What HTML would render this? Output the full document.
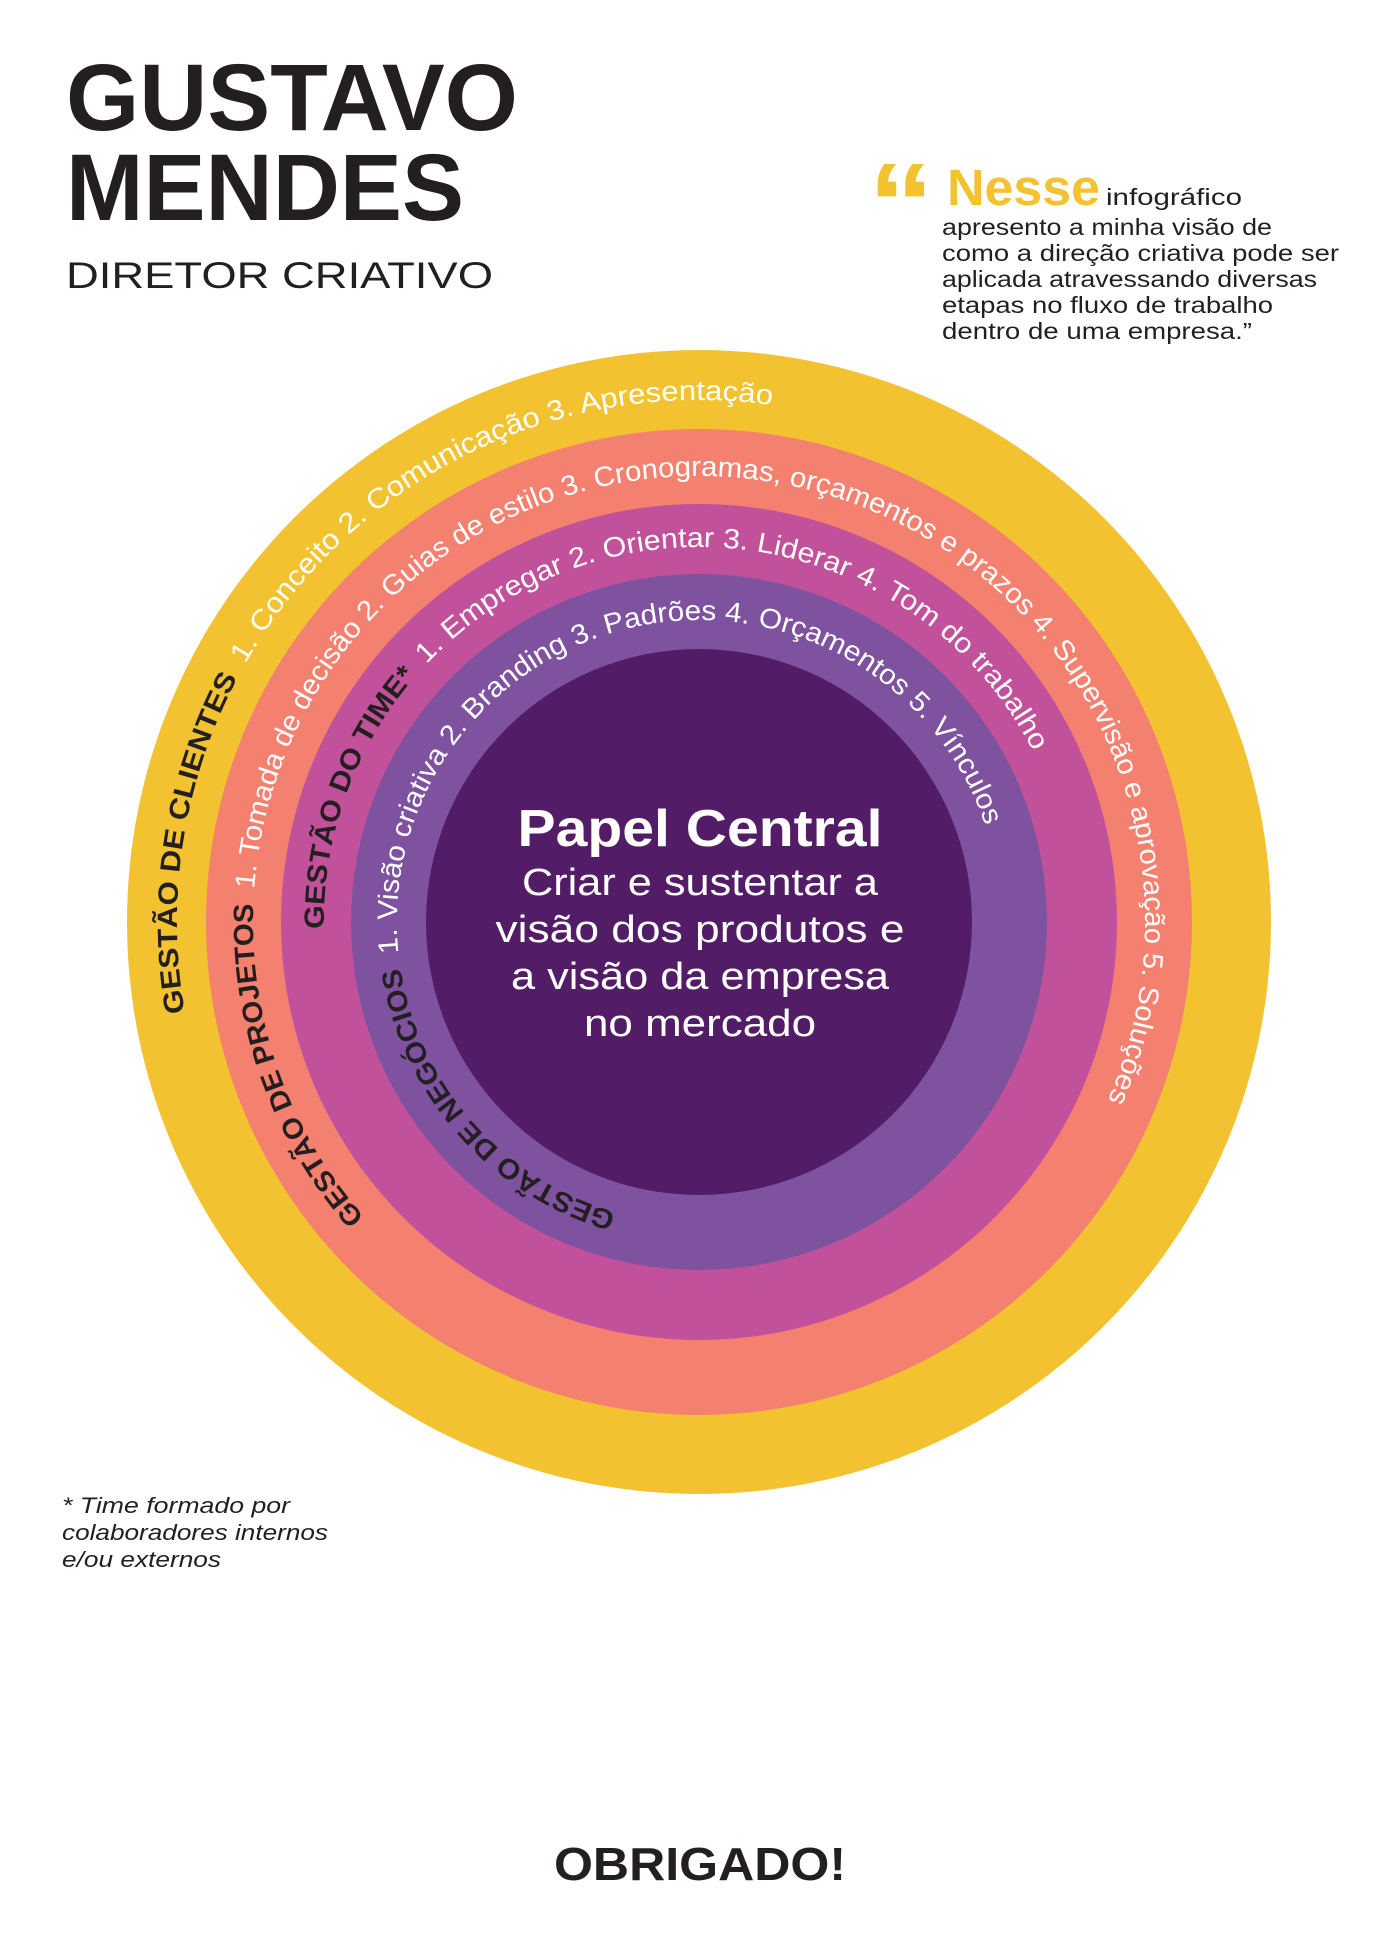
<!DOCTYPE html>
<html><head><meta charset="utf-8"><style>
html,body{margin:0;padding:0;background:#fff;width:1400px;height:1944px;overflow:hidden}
svg{display:block}
text{font-family:"Liberation Sans",sans-serif}
</style></head><body>
<svg width="1400" height="1944" viewBox="0 0 1400 1944" xmlns="http://www.w3.org/2000/svg">
<defs>
<path id="pY" d="M699,1444 A522,522 0 1 1 699,400 A522,522 0 1 1 699,1444"/>
<path id="pS" d="M699,1368 A446,446 0 1 1 699,476 A446,446 0 1 1 699,1368"/>
<path id="pM" d="M699,1297 A375,375 0 1 1 699,547 A375,375 0 1 1 699,1297"/>
<path id="pP" d="M699,1224 A302,302 0 1 1 699,620 A302,302 0 1 1 699,1224"/>
</defs>
<!-- title -->
<text x="66" y="130" font-size="95" font-weight="bold" fill="#231f20" textLength="452" lengthAdjust="spacingAndGlyphs">GUSTAVO</text>
<text x="66" y="220" font-size="95" font-weight="bold" fill="#231f20" textLength="398" lengthAdjust="spacingAndGlyphs">MENDES</text>
<text x="66" y="288" font-size="37" fill="#231f20" textLength="427" lengthAdjust="spacingAndGlyphs">DIRETOR CRIATIVO</text>
<!-- quote -->
<text x="868" y="243" font-size="115" font-weight="bold" fill="#f2c230" textLength="66" lengthAdjust="spacingAndGlyphs">“</text>
<text x="947" y="205" font-size="51" font-weight="bold" fill="#f2c230" textLength="153" lengthAdjust="spacingAndGlyphs">Nesse</text>
<text x="1106" y="205" font-size="23" fill="#231f20" textLength="136" lengthAdjust="spacingAndGlyphs">infográfico</text>
<g font-size="23" fill="#231f20">
<text x="942" y="235" textLength="330" lengthAdjust="spacingAndGlyphs">apresento a minha visão de</text>
<text x="942" y="261" textLength="397" lengthAdjust="spacingAndGlyphs">como a direção criativa pode ser</text>
<text x="942" y="287" textLength="375" lengthAdjust="spacingAndGlyphs">aplicada atravessando diversas</text>
<text x="942" y="313" textLength="331" lengthAdjust="spacingAndGlyphs">etapas no fluxo de trabalho</text>
<text x="942" y="339" textLength="310" lengthAdjust="spacingAndGlyphs">dentro de uma empresa.”</text>
</g>
<!-- rings -->
<circle cx="699" cy="922" r="572" fill="#f2c230"/>
<circle cx="699" cy="922" r="493" fill="#f4806f"/>
<circle cx="699" cy="922" r="418" fill="#c2519c"/>
<circle cx="699" cy="922" r="348" fill="#7f52a0"/>
<circle cx="699" cy="922" r="273" fill="#521c66"/>
<!-- ring text -->
<text font-size="28" fill="#fff"><textPath href="#pY" startOffset="729" textLength="984" lengthAdjust="spacingAndGlyphs"><tspan font-weight="bold" fill="#231f20">GESTÃO DE CLIENTES</tspan><tspan dx="14">1. Conceito 2. Comunicação 3. Apresentação</tspan></textPath></text>
<text font-size="28" fill="#fff"><textPath href="#pS" startOffset="378" textLength="1907" lengthAdjust="spacingAndGlyphs"><tspan font-weight="bold" fill="#231f20">GESTÃO DE PROJETOS</tspan><tspan dx="14">1. Tomada de decisão 2. Guias de estilo 3. Cronogramas, orçamentos e prazos 4. Supervisão e aprovação 5. Soluções</tspan></textPath></text>
<text font-size="28" fill="#fff"><textPath href="#pM" startOffset="582" textLength="1008" lengthAdjust="spacingAndGlyphs"><tspan font-weight="bold" fill="#231f20">GESTÃO DO TIME*</tspan><tspan dx="14">1. Empregar 2. Orientar 3. Liderar 4. Tom do trabalho</tspan></textPath></text>
<text font-size="28" fill="#fff"><textPath href="#pP" startOffset="84" textLength="1241" lengthAdjust="spacingAndGlyphs"><tspan font-weight="bold" fill="#231f20">GESTÃO DE NEGÓCIOS</tspan><tspan dx="14">1. Visão criativa 2. Branding 3. Padrões 4. Orçamentos 5. Vínculos</tspan></textPath></text>
<!-- center -->
<g fill="#fff" text-anchor="middle">
<text x="700" y="846" font-size="52" font-weight="bold" textLength="365" lengthAdjust="spacingAndGlyphs">Papel Central</text>
<text x="700" y="895" font-size="38" textLength="356" lengthAdjust="spacingAndGlyphs">Criar e sustentar a</text>
<text x="700" y="942" font-size="38" textLength="409" lengthAdjust="spacingAndGlyphs">visão dos produtos e</text>
<text x="700" y="989" font-size="38" textLength="378" lengthAdjust="spacingAndGlyphs">a visão da empresa</text>
<text x="700" y="1036" font-size="38" textLength="232" lengthAdjust="spacingAndGlyphs">no mercado</text>
</g>
<!-- footnote -->
<g font-size="22" font-style="italic" fill="#231f20">
<text x="62" y="1513" textLength="228" lengthAdjust="spacingAndGlyphs">* Time formado por</text>
<text x="62" y="1540" textLength="266" lengthAdjust="spacingAndGlyphs">colaboradores internos</text>
<text x="62" y="1567" textLength="159" lengthAdjust="spacingAndGlyphs">e/ou externos</text>
</g>
<text x="554" y="1880" font-size="46" font-weight="bold" fill="#231f20" textLength="292" lengthAdjust="spacingAndGlyphs">OBRIGADO!</text>
</svg>
</body></html>
